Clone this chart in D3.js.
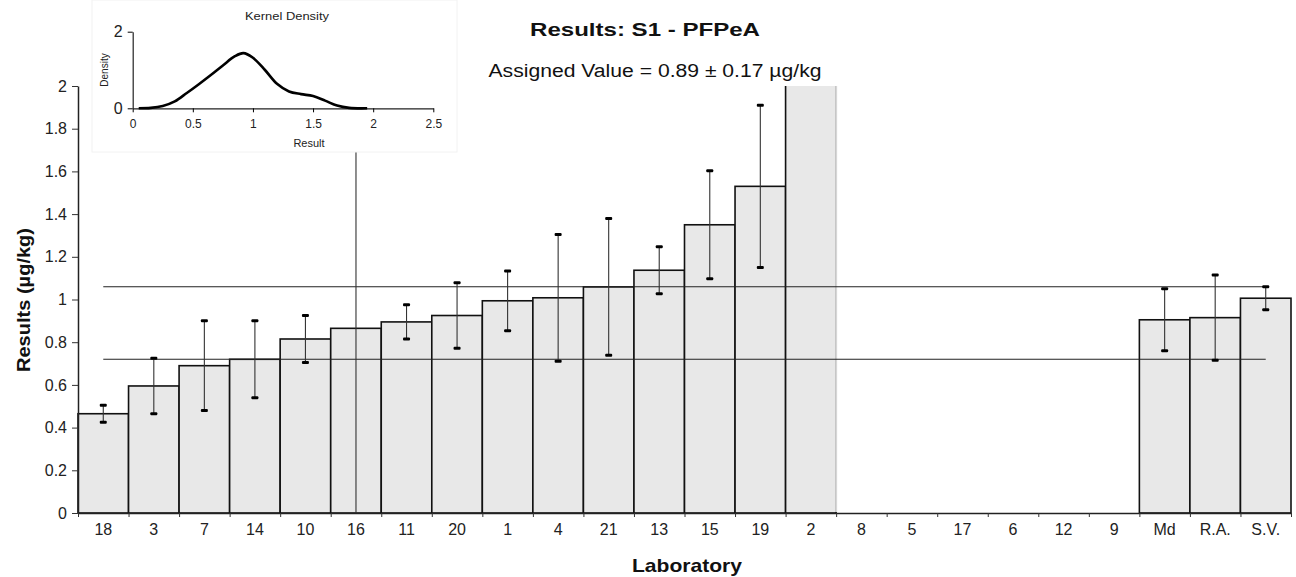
<!DOCTYPE html>
<html>
<head>
<meta charset="utf-8">
<script src="https://cdn.jsdelivr.net/npm/d3@7"></script>
<style>
  body { margin: 0; background: #fff; }
  text { font-family: "Liberation Sans", Arial, sans-serif; }
</style>
</head>
<body>
<div id="chart"></div>
<script>

// lab codes, in plotted order
const labs = ["18", "3", "7", "14", "10", "16", "11", "20", "1", "4", "21", "13", "15", "19", "2",
              "8", "5", "17", "6", "12", "9", "Md", "R.A.", "S.V."];

// reported results (ug/kg), null = no result
const results = [0.465, 0.595, 0.69, 0.72, 0.815, 0.865, 0.895, 0.925, 0.994, 1.008, 1.059, 1.137, 1.35, 1.53, 2.6,
                 null, null, null, null, null, null, 0.905, 0.915, 1.006];

// expanded uncertainty of each result
const uncert = [0.04, 0.13, 0.21, 0.18, 0.11, 1.0, 0.08, 0.153, 0.14, 0.297, 0.32, 0.11, 0.253, 0.38, null,
                null, null, null, null, null, null, 0.145, 0.2, 0.054];

// assigned value and its uncertainty
const assigned = 0.89;
const assignedU = 0.17;

// y tick values
const yTicks = [0, 0.2, 0.4, 0.6, 0.8, 1, 1.2, 1.4, 1.6, 1.8, 2];

// kernel density curve
const kdX = [0.05, 0.15, 0.25, 0.35, 0.45, 0.55, 0.65, 0.75, 0.85, 0.92, 1.0, 1.1, 1.2, 1.3, 1.4, 1.5, 1.6, 1.7, 1.8, 1.95];
const kdY = [0, 0.01, 0.06, 0.18, 0.40, 0.63, 0.87, 1.12, 1.36, 1.44, 1.32, 1.0, 0.64, 0.44, 0.37, 0.32, 0.2, 0.07, 0.01, 0];
const kdXTicks = [0, 0.5, 1, 1.5, 2, 2.5];
const kdYTicks = [0, 2];

const width = 1296;
const height = 577;
const margin = {top: 86, right: 5, bottom: 64, left: 78};

const data = labs.map((lab, i) => ({lab: lab, value: results[i], u: uncert[i]}));

const svg = d3.select("#chart")
  .append("svg")
  .attr("width", width)
  .attr("height", height);

const xScale = d3.scaleBand()
  .domain(labs)
  .range([margin.left, width - margin.right])
  .padding(0);

// same span, used for the boundary ticks
const xEdge = d3.scaleLinear()
  .domain([0, labs.length])
  .range([margin.left, width - margin.right]);

const yScale = d3.scaleLinear()
  .domain([0, 2])
  .range([height - margin.bottom, margin.top]);

// clip marks to the plot area
svg.append("clipPath")
    .attr("id", "plot-clip")
  .append("rect")
    .attr("x", margin.left - 2)
    .attr("y", margin.top)
    .attr("width", width - margin.left - margin.right + 4)
    .attr("height", height - margin.top - margin.bottom);

const plot = svg.append("g").attr("clip-path", "url(#plot-clip)");

const withValue = data.filter(d => d.value !== null);

// bars
plot.selectAll("rect.bar")
  .data(withValue)
  .enter()
  .append("rect")
    .attr("class", "bar")
    .attr("x", d => xScale(d.lab))
    .attr("y", d => yScale(d.value))
    .attr("width", xScale.bandwidth())
    .attr("height", d => yScale(0) - yScale(d.value))
    .attr("fill", "#e8e8e8")
    .attr("stroke", "#111")
    .attr("stroke-width", 1.6);

// off-scale bar (lab 2) has a faint right edge in the original
const off = withValue.filter(d => d.value > 2);
plot.selectAll("line.offedge")
  .data(off)
  .enter()
  .append("line")
    .attr("class", "offedge")
    .attr("x1", d => xScale(d.lab) + xScale.bandwidth())
    .attr("x2", d => xScale(d.lab) + xScale.bandwidth())
    .attr("y1", yScale(2))
    .attr("y2", yScale(0) - 1)
    .attr("stroke", "#d6d6d6")
    .attr("stroke-width", 2);

// assigned value +/- uncertainty lines
const first = xScale(labs[0]) + xScale.bandwidth() / 2;
const last = xScale(labs[labs.length - 1]) + xScale.bandwidth() / 2;
[assigned + assignedU, assigned - assignedU].forEach(v => {
  plot.append("line")
    .attr("x1", first)
    .attr("x2", last)
    .attr("y1", yScale(v))
    .attr("y2", yScale(v))
    .attr("stroke", "#222")
    .attr("stroke-width", 1.1);
});

// error bars
const withU = withValue.filter(d => d.u !== null);
const cx = d => xScale(d.lab) + xScale.bandwidth() / 2;

plot.selectAll("line.err")
  .data(withU)
  .enter()
  .append("line")
    .attr("class", "err")
    .attr("x1", cx)
    .attr("x2", cx)
    .attr("y1", d => yScale(d.value - d.u))
    .attr("y2", d => yScale(d.value + d.u))
    .attr("stroke", "#333")
    .attr("stroke-width", 1.1);

const caps = withU.flatMap(d => [{d: d, v: d.value + d.u}, {d: d, v: d.value - d.u}]);
plot.selectAll("rect.cap")
  .data(caps)
  .enter()
  .append("rect")
    .attr("class", "cap")
    .attr("x", c => cx(c.d) - 3.5)
    .attr("y", c => yScale(c.v) - 1.5)
    .attr("width", 7)
    .attr("height", 3)
    .attr("rx", 1)
    .attr("fill", "#000");

// x axis: boundary ticks
svg.append("g")
    .attr("transform", `translate(0,${height - margin.bottom})`)
    .call(d3.axisBottom(xEdge).tickValues(d3.range(labs.length + 1)).tickFormat("").tickSize(4).tickSizeOuter(0))
    .call(g => g.select(".domain").attr("stroke", "#222").attr("stroke-width", 1.5))
    .call(g => g.selectAll(".tick line").attr("stroke", "#333"));

// x axis: lab labels
svg.append("g")
    .attr("transform", `translate(0,${height - margin.bottom})`)
    .call(d3.axisBottom(xScale).tickSize(0).tickPadding(11))
    .call(g => g.select(".domain").remove())
    .call(g => g.selectAll("text")
      .attr("font-family", "Liberation Sans, Arial, sans-serif")
      .attr("font-size", "16px")
      .attr("fill", "#222"));

// y axis
svg.append("g")
    .attr("transform", `translate(${margin.left},0)`)
    .call(d3.axisLeft(yScale).tickValues(yTicks).tickFormat(d => String(+d.toFixed(1))).tickSize(6).tickSizeOuter(0).tickPadding(5))
    .call(g => g.select(".domain").attr("stroke", "#222").attr("stroke-width", 1.5))
    .call(g => g.selectAll(".tick line").attr("stroke", "#333"))
    .call(g => g.selectAll("text")
      .attr("font-family", "Liberation Sans, Arial, sans-serif")
      .attr("font-size", "16px")
      .attr("fill", "#222"));

// titles
svg.append("text")
    .attr("x", 645)
    .attr("y", 36)
    .attr("text-anchor", "middle")
    .attr("font-size", "19px")
    .attr("font-weight", "bold")
    .attr("textLength", 230)
    .attr("lengthAdjust", "spacingAndGlyphs")
    .attr("fill", "#111")
    .text("Results: S1 - PFPeA");

svg.append("text")
    .attr("x", 655)
    .attr("y", 77)
    .attr("text-anchor", "middle")
    .attr("font-size", "18px")
    .attr("textLength", 333)
    .attr("lengthAdjust", "spacingAndGlyphs")
    .attr("fill", "#111")
    .text("Assigned Value = 0.89 \u00b1 0.17 \u00b5g/kg");

svg.append("text")
    .attr("x", 687)
    .attr("y", 572)
    .attr("text-anchor", "middle")
    .attr("font-size", "19px")
    .attr("font-weight", "bold")
    .attr("textLength", 110)
    .attr("lengthAdjust", "spacingAndGlyphs")
    .attr("fill", "#111")
    .text("Laboratory");

svg.append("text")
    .attr("transform", "translate(30,300) rotate(-90)")
    .attr("text-anchor", "middle")
    .attr("font-size", "19px")
    .attr("font-weight", "bold")
    .attr("textLength", 144)
    .attr("lengthAdjust", "spacingAndGlyphs")
    .attr("fill", "#111")
    .text("Results (\u00b5g/kg)");

// kernel density inset
const inset = svg.append("g");

inset.append("rect")
    .attr("x", 92)
    .attr("y", 0)
    .attr("width", 365)
    .attr("height", 152)
    .attr("fill", "#fff")
    .attr("stroke", "#f2f2f2");

const kx = d3.scaleLinear().domain([0, 2.5]).range([132.7, 433.3]);
const ky = d3.scaleLinear().domain([0, 2]).range([108.3, 31.7]);

inset.append("g")
    .attr("transform", `translate(0,${ky(0)})`)
    .call(d3.axisBottom(kx).tickValues(kdXTicks).tickFormat(d => String(d)).tickSize(4).tickSizeOuter(0).tickPadding(7))
    .call(g => g.select(".domain").attr("stroke", "#222").attr("stroke-width", 1.2))
    .call(g => g.selectAll("text")
      .attr("font-family", "Liberation Sans, Arial, sans-serif")
      .attr("font-size", "12px")
      .attr("fill", "#222"));

inset.append("g")
    .attr("transform", `translate(${kx(0)},0)`)
    .call(d3.axisLeft(ky).tickValues(kdYTicks).tickFormat(d => String(d)).tickSize(5).tickSizeOuter(0).tickPadding(5))
    .call(g => g.select(".domain").attr("stroke", "#222").attr("stroke-width", 1.2))
    .call(g => g.selectAll("text")
      .attr("font-family", "Liberation Sans, Arial, sans-serif")
      .attr("font-size", "16px")
      .attr("fill", "#222"));

const kdLine = d3.line()
  .x((d, i) => kx(kdX[i]))
  .y(d => ky(d))
  .curve(d3.curveCatmullRom);

inset.append("path")
    .datum(kdY)
    .attr("d", kdLine)
    .attr("fill", "none")
    .attr("stroke", "#000")
    .attr("stroke-width", 2.6);

inset.append("text")
    .attr("x", 287)
    .attr("y", 20)
    .attr("text-anchor", "middle")
    .attr("font-size", "10px")
    .attr("textLength", 84)
    .attr("lengthAdjust", "spacingAndGlyphs")
    .attr("fill", "#222")
    .text("Kernel Density");

inset.append("text")
    .attr("x", 309)
    .attr("y", 147)
    .attr("text-anchor", "middle")
    .attr("font-size", "11px")
    .attr("fill", "#222")
    .text("Result");

inset.append("text")
    .attr("transform", "translate(108,70) rotate(-90)")
    .attr("text-anchor", "middle")
    .attr("font-size", "10px")
    .attr("fill", "#222")
    .text("Density");

</script>
</body>
</html>
